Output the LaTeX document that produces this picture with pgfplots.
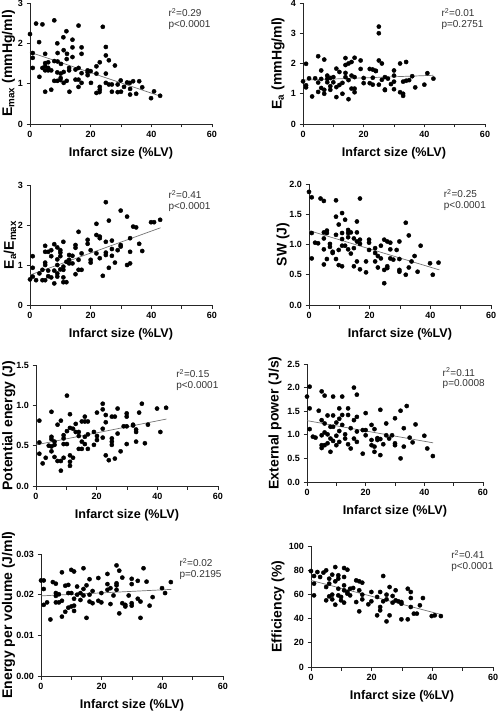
\documentclass[border=0pt]{standalone}
\usepackage{fontspec}
\setmainfont{Liberation Sans}
\usepackage{pgfplots}
\pgfplotsset{compat=1.18}
\pgfplotsset{
  myax/.style={
    scale only axis, anchor=south west,
    xmin=0,xmax=60, ymin=0,
    axis x line*=bottom, axis y line*=left,
    axis line style={-, line width=0.8pt, black!85},
    xtick={0,10,...,60}, xticklabels={0,,20,,40,,60},
    tick align=outside, major tick length=3.5pt,
    tick style={line width=0.8pt, black!85},
    tick label style={font=\fontsize{9}{10}\selectfont\bfseries},
    /pgf/number format/assume math mode=true,
    scaled y ticks=false,
    xlabel={Infarct size (\%LV)},
    xlabel style={font=\fontsize{12.6}{14}\selectfont\bfseries, at={(axis description cs:0.5,0)}, anchor=center, yshift=-29pt},
    ylabel style={font=\fontsize{14}{16}\selectfont\bfseries, anchor=center, inner sep=0pt},
    clip=false,
  },
  dots/.style={only marks, mark=*, mark size=2.1pt, black},
  fitl/.style={no marks, black!55, line width=0.7pt},
}
\tikzset{stat/.style={anchor=west, font=\fontsize{10}{11}\selectfont, text=black!80, inner sep=0pt}}
\begin{document}
\begin{tikzpicture}
\useasboundingbox (0pt,0pt) rectangle (498pt,-711pt);
% Panel 1: Emax
\begin{axis}[myax, at={(30pt,-124pt)}, width=182pt, height=121pt, ymax=3, ytick={0,1,2,3},
  ylabel={E\textsubscript{max} (mmHg/ml)}, ylabel style={at={(axis description cs:-0.118,0.5)}}]
\addplot[dots] coordinates {(0,2.23)(2.0,2.49)(4.1,2.47)(8.0,2.57)(16.0,2.44)(24.0,2.41)(12.0,2.30)(11.0,2.15)(14.0,2.09)(3.0,2.03)(9.0,2.00)(17.0,1.90)(14.0,1.90)(25.0,1.91)(11.1,1.83)(5.0,1.74)(9.1,1.76)(12.2,1.74)(17.0,1.74)(0.9,1.76)(0.9,1.64)(12.1,1.61)(14.0,1.66)(26.0,1.58)(25.0,1.70)(8.0,1.56)(6.0,1.53)(9.1,1.55)(5.0,1.51)(10.2,1.49)(12.9,1.39)(15.0,1.35)(19.0,1.33)(19.0,1.28)(16.0,1.39)(5.0,1.43)(4.1,1.39)(6.0,1.39)(5.0,1.33)(7.0,1.33)(6.0,1.33)(0.9,1.39)(12.9,1.33)(11.1,1.29)(10.1,1.25)(9.0,1.28)(10.1,1.14)(10.0,1.09)(16.0,1.10)(17.0,1.26)(15.0,1.10)(12.1,1.07)(8.0,1.07)(9.0,1.07)(11.1,1.02)(19.0,1.21)(20.0,1.31)(21.9,1.43)(23.0,1.53)(21.9,1.25)(20.1,1.02)(17.0,1.02)(16.0,0.92)(13.0,0.80)(5.0,0.80)(7.0,0.85)(3.1,1.17)(25.0,1.02)(25.0,1.25)(26.0,0.98)(27.0,0.98)(28.9,0.98)(29.9,1.08)(31.0,0.92)(30.0,0.80)(32.9,1.02)(34.0,1.06)(36.0,1.06)(32.0,1.03)(37.0,0.91)(33.0,0.87)(28.9,0.79)(27.0,0.80)(23.0,0.92)(21.9,0.77)(22.9,0.79)(23.0,0.85)(33.0,0.73)(35.0,0.75)(39.9,0.64)(40.9,0.81)(42.9,0.70)(28.0,1.45)};
\addplot[fitl] coordinates {(0,1.78)(43,0.69)};
\node[stat] at (rel axis cs:0.76,0.92) {r\textsuperscript{2}=0.29};
\node[stat] at (rel axis cs:0.76,0.82) {p<0.0001};
\end{axis}
% Panel 2: Ea
\begin{axis}[myax, at={(303pt,-124pt)}, width=182pt, height=121pt, ymax=4, ytick={0,1,2,3,4},
  ylabel={E\textsubscript{a} (mmHg/ml)}, ylabel style={at={(axis description cs:-0.137,0.5)}}]
\addplot[dots] coordinates {(0,1.41)(1,1.99)(1,1.28)(1,1.21)(2,1.51)(3,0.91)(4,1.51)(5,2.24)(5,1.37)(5,1.06)(6,1.77)(6,1.49)(6,1.19)(7,2.13)(7,1.13)(7,1.00)(8,1.60)(8,1.49)(8,1.38)(9,1.52)(9,1.25)(9,1.13)(10,1.55)(10,1.38)(11,1.83)(11,1.22)(11,0.89)(12,1.72)(12,1.29)(13,1.36)(13,1.00)(14,2.18)(14,1.95)(14,1.69)(14,1.55)(15,2.00)(15,1.45)(15,0.82)(16,2.05)(16,1.60)(16,1.17)(17,2.19)(17,1.55)(17,1.17)(17,1.05)(19,2.10)(19,1.82)(20,1.52)(20,1.35)(22,1.82)(22,1.35)(23,1.80)(23,1.53)(23,1.30)(24,1.76)(24,1.75)(25,3.22)(25,3.00)(25,2.10)(25,1.30)(26,2.00)(26,1.46)(27,1.55)(27,1.14)(27,1.12)(28,1.50)(29,1.32)(30,1.77)(30,1.60)(30,1.40)(30,1.15)(32,2.00)(32,1.05)(33,1.00)(33,0.93)(33,1.40)(34,2.05)(34,1.43)(35,1.45)(36,1.58)(37,1.21)(40,1.30)(41,1.68)(43,1.50)};
\addplot[fitl] coordinates {(0,1.45)(43,1.61)};
\node[stat] at (rel axis cs:0.76,0.92) {r\textsuperscript{2}=0.01};
\node[stat] at (rel axis cs:0.76,0.82) {p=0.2751};
\end{axis}
% Panel 3: Ea/Emax
\begin{axis}[myax, at={(30pt,-305pt)}, width=182pt, height=120pt, ymax=3, ytick={0,1,2,3},
  ylabel={E\textsubscript{a}/E\textsubscript{max}}, ylabel style={at={(axis description cs:-0.110,0.5)}}]
\addplot[dots] coordinates {(0,0.64)(0.9,1.22)(0.9,0.93)(0.9,0.71)(2.0,0.62)(3.1,0.79)(4.1,0.62)(5.0,0.62)(5.0,1.33)(5.0,1.48)(5.0,1.00)(5.0,1.06)(6.0,1.33)(6.0,0.86)(6.0,0.72)(7.0,1.37)(7.0,1.22)(7.0,0.69)(8.0,1.52)(8.0,0.54)(8.0,0.86)(9.0,1.14)(9.0,1.00)(9.0,0.79)(9.0,0.71)(10.0,1.37)(10.0,1.31)(10.0,1.22)(10.0,0.89)(11.0,1.58)(11.0,0.96)(11.0,0.88)(11.0,0.69)(11.0,0.57)(12.0,1.08)(12.0,0.57)(12.9,1.25)(12.9,1.04)(14.0,1.04)(15.0,1.50)(15.0,1.43)(15.0,0.77)(16.0,1.83)(16.0,1.13)(16.0,0.88)(17.0,1.29)(17.0,0.88)(19.0,1.63)(19.0,1.53)(20.0,1.37)(20.0,1.13)(20.0,1.06)(21.9,2.03)(21.9,1.75)(21.9,1.29)(23.0,1.71)(23.0,1.67)(23.0,1.17)(24.0,0.73)(25.0,2.57)(25.0,1.58)(25.0,1.31)(25.0,1.25)(26.0,2.11)(26.0,0.93)(27.0,1.61)(27.0,1.40)(27.0,1.23)(28.0,1.06)(28.9,1.37)(29.9,2.36)(29.9,1.50)(29.9,1.46)(32.0,2.21)(32.0,1.00)(33.0,1.67)(33.0,1.33)(33.0,1.04)(34.0,1.96)(35.0,1.94)(36.0,1.53)(37.0,1.35)(39.9,2.07)(40.9,2.07)(42.9,2.13)(4.1,0.88)(12.9,1.13)(14.0,1.23)(9.0,1.44)};
\addplot[fitl] coordinates {(0,0.75)(43,1.93)};
\node[stat] at (rel axis cs:0.76,0.92) {r\textsuperscript{2}=0.41};
\node[stat] at (rel axis cs:0.76,0.82) {p<0.0001};
\end{axis}
% Panel 4: SW
\begin{axis}[myax, at={(309pt,-305pt)}, width=182pt, height=121pt, ymax=2, ytick={0,0.5,1,1.5,2}, yticklabels={0.0,0.5,1.0,1.5,2.0},
  ylabel={SW (J)}, ylabel style={at={(axis description cs:-0.143,0.5)}}]
\addplot[dots] coordinates {(0,1.87)(0.9,1.78)(0.9,1.19)(0.9,0.77)(2.0,1.03)(3.0,1.02)(3.8,1.76)(4.9,1.72)(4.9,1.20)(4.9,1.10)(4.9,0.92)(4.9,0.67)(5.9,1.23)(5.9,1.19)(5.9,0.76)(6.9,1.01)(6.9,0.96)(7.8,0.88)(7.8,0.86)(8.9,1.73)(8.9,1.46)(8.9,1.16)(8.9,0.76)(9.8,1.33)(9.8,0.91)(9.8,0.66)(10.9,1.52)(10.9,1.19)(10.9,1.09)(10.9,0.98)(10.9,0.64)(11.9,1.41)(11.9,0.98)(12.9,1.24)(12.9,1.19)(12.9,1.12)(12.9,0.92)(13.8,1.20)(13.8,0.85)(14.8,1.10)(14.8,0.94)(14.8,0.64)(15.8,1.38)(15.8,1.20)(15.8,1.05)(15.8,0.72)(16.8,1.76)(16.8,1.08)(16.8,1.01)(16.8,0.59)(18.8,0.72)(18.8,0.54)(19.8,1.08)(19.8,1.03)(19.8,0.91)(21.8,0.94)(21.8,0.86)(21.8,0.72)(22.7,0.81)(22.7,0.62)(23.7,0.98)(23.7,0.77)(24.8,1.08)(24.8,0.36)(24.8,0.58)(25.8,1.05)(25.8,0.64)(25.8,0.61)(26.8,1.03)(26.8,0.92)(26.8,0.77)(27.8,0.75)(28.9,0.91)(29.8,1.05)(29.8,0.76)(29.8,0.58)(29.8,0.55)(31.9,1.36)(31.9,0.50)(32.9,1.15)(32.9,0.62)(33.8,0.72)(34.8,0.81)(35.8,0.55)(36.8,0.98)(39.9,0.69)(40.8,0.50)(42.7,0.70)};
\addplot[fitl] coordinates {(0,1.23)(43,0.58)};
\node[stat] at (rel axis cs:0.74,0.92) {r\textsuperscript{2}=0.25};
\node[stat] at (rel axis cs:0.74,0.82) {p<0.0001};
\end{axis}
% Panel 5: Potential energy
\begin{axis}[myax, at={(36pt,-486pt)}, width=182pt, height=121pt, ymax=1.5, ytick={0,0.5,1,1.5}, yticklabels={0.0,0.5,1.0,1.5},
  ylabel={Potential energy (J)}, ylabel style={at={(axis description cs:-0.150,0.5)}}]
\addplot[dots] coordinates {(1.1,0.81)(1.1,0.54)(1.1,0.40)(2.2,0.28)(3.2,0.35)(4.2,0.50)(5.1,0.92)(5.1,0.61)(5.1,0.58)(5.1,0.49)(5.1,0.43)(6.1,0.55)(6.1,0.51)(6.1,0.36)(7.1,0.76)(7.1,0.31)(8.2,0.81)(8.2,0.31)(8.2,0.19)(9.1,0.63)(9.1,0.59)(9.1,0.52)(9.1,0.35)(10.2,1.12)(10.2,0.68)(10.2,0.52)(11.2,0.89)(11.2,0.72)(11.2,0.38)(11.2,0.30)(11.2,0.25)(12.2,0.71)(12.2,0.35)(13.1,0.77)(13.1,0.67)(14.1,0.67)(14.1,0.46)(14.1,0.62)(15.1,0.80)(15.1,0.55)(15.1,0.46)(16.1,0.86)(16.1,0.80)(16.1,0.61)(16.1,0.52)(17.1,0.80)(17.1,0.64)(17.1,0.46)(19.1,0.51)(19.1,0.67)(20.1,0.91)(20.1,0.62)(20.1,0.57)(22.0,1.02)(22.0,0.95)(22.0,0.71)(22.0,0.60)(23.0,0.88)(23.0,0.79)(23.0,0.38)(24.0,0.32)(25.0,0.86)(25.0,0.59)(25.0,0.55)(25.0,0.51)(26.0,0.86)(26.0,0.34)(26.9,0.96)(26.9,0.65)(27.9,0.43)(28.9,0.74)(29.9,0.90)(29.9,0.86)(29.9,0.74)(29.9,0.52)(32.0,0.76)(32.0,0.75)(33.0,0.70)(33.0,0.67)(33.0,0.55)(34.0,0.91)(34.9,1.02)(35.9,0.53)(36.9,0.76)(39.9,0.96)(41.0,0.67)(42.9,0.97)};
\addplot[fitl] coordinates {(0,0.51)(43,0.83)};
\node[stat] at (rel axis cs:0.77,0.93) {r\textsuperscript{2}=0.15};
\node[stat] at (rel axis cs:0.77,0.83) {p<0.0001};
\end{axis}
% Panel 6: External power
\begin{axis}[myax, at={(307pt,-482pt)}, width=176pt, height=118pt, ymax=2.5, ytick={0,0.5,1,1.5,2,2.5}, yticklabels={0.0,0.5,1.0,1.5,2.0,2.5},
  ylabel={External power (J/s)}, ylabel style={at={(axis description cs:-0.182,0.5)}}]
\addplot[dots] coordinates {(0,1.81)(0.9,2.02)(0.9,1.56)(0.9,1.12)(2.0,0.96)(2.9,0.94)(4.0,1.51)(5.0,1.92)(5.0,1.31)(5.0,0.99)(5.0,0.78)(5.0,0.72)(6.0,1.83)(6.0,1.24)(6.0,1.05)(6.0,0.78)(7.0,1.41)(7.0,1.01)(7.0,0.82)(8.0,1.17)(8.0,0.64)(8.0,0.92)(8.9,1.81)(8.9,1.41)(8.9,1.17)(8.9,0.87)(10.0,1.26)(10.0,0.98)(10.0,0.78)(11.0,1.56)(11.0,1.34)(11.0,1.08)(11.0,0.85)(12.0,1.81)(12.0,1.42)(12.0,1.21)(13.0,1.01)(13.0,0.92)(14.0,1.56)(14.0,1.42)(14.0,0.80)(14.9,1.14)(14.9,0.71)(16.0,2.00)(16.0,1.31)(16.0,0.92)(17.0,1.85)(17.0,1.38)(17.0,1.07)(17.0,0.85)(19.0,0.60)(19.0,1.10)(20.0,1.46)(20.0,0.99)(20.0,1.10)(22.0,1.21)(22.0,0.78)(22.0,0.89)(23.0,1.12)(23.0,0.64)(23.0,0.75)(24.0,0.89)(24.0,0.93)(25.0,1.53)(25.0,0.91)(25.0,0.57)(26.0,0.80)(27.0,1.24)(27.0,0.99)(28.0,0.92)(29.0,0.99)(30.0,1.35)(30.0,0.78)(30.0,0.82)(31.9,1.51)(31.9,0.50)(33.0,1.14)(33.0,0.75)(34.0,1.61)(35.0,0.94)(36.0,0.84)(37.0,1.22)(40.0,0.98)(41.0,0.71)(42.9,0.55)};
\addplot[fitl] coordinates {(0,1.30)(43,0.83)};
\node[stat] at (rel axis cs:0.77,0.93) {r\textsuperscript{2}=0.11};
\node[stat] at (rel axis cs:0.77,0.83) {p=0.0008};
\end{axis}
% Panel 7: Energy per volume
\begin{axis}[myax, at={(41pt,-676pt)}, width=182pt, height=122pt, ymax=0.03, ytick={0,0.01,0.02,0.03}, yticklabels={0.00,0.01,0.02,0.03},
  ylabel={Energy per volume (J/ml)}, ylabel style={at={(axis description cs:-0.178,0.5)}}]
\addplot[dots] coordinates {(0,0.0235)(0.9,0.0235)(0.9,0.0214)(0.9,0.0175)(2.0,0.0181)(3.1,0.0139)(3.9,0.0231)(4.9,0.0227)(4.9,0.0204)(4.9,0.0197)(4.9,0.0181)(5.9,0.0201)(5.9,0.0181)(6.9,0.0255)(6.9,0.0185)(6.9,0.0146)(8.0,0.0222)(8.0,0.0158)(9.0,0.0224)(9.0,0.0204)(9.0,0.0168)(10.0,0.0261)(10.0,0.0204)(10.0,0.0171)(10.9,0.0257)(10.9,0.0190)(10.9,0.0160)(10.9,0.0173)(11.9,0.0220)(11.9,0.0200)(13.0,0.0187)(13.0,0.0204)(14.0,0.0265)(14.0,0.0214)(14.0,0.0198)(15.0,0.0143)(15.0,0.0223)(16.0,0.0238)(16.0,0.0200)(16.0,0.0183)(17.0,0.0209)(17.0,0.0179)(18.9,0.0241)(18.9,0.0185)(19.9,0.0181)(19.9,0.0204)(21.9,0.0251)(21.9,0.0212)(21.9,0.0226)(22.9,0.0177)(22.9,0.0216)(23.9,0.0198)(24.9,0.0272)(24.9,0.0228)(24.9,0.0223)(24.9,0.0212)(25.8,0.0259)(25.8,0.0154)(26.8,0.0242)(26.8,0.0179)(27.8,0.0175)(27.8,0.0171)(28.9,0.0198)(29.9,0.0239)(29.9,0.0226)(29.9,0.0179)(29.9,0.0173)(31.9,0.0234)(31.9,0.0190)(32.8,0.0183)(32.8,0.0143)(33.8,0.0265)(34.8,0.0232)(35.8,0.0173)(36.8,0.0194)(39.9,0.0216)(40.9,0.0204)(42.8,0.0231)};
\addplot[fitl] coordinates {(0,0.0197)(43,0.0213)};
\node[stat] at (rel axis cs:0.76,0.93) {r\textsuperscript{2}=0.02};
\node[stat] at (rel axis cs:0.76,0.83) {p=0.2195};
\end{axis}
% Panel 8: Efficiency
\begin{axis}[myax, at={(311pt,-667pt)}, width=182pt, height=121pt, ymax=100, ytick={0,20,40,60,80,100},
  ylabel={Efficiency (\%)}, ylabel style={at={(axis description cs:-0.181,0.5)}}]
\addplot[dots] coordinates {(0,79.3)(1.0,75.2)(1.0,68.9)(1.0,59.2)(2.1,78.5)(3.0,74.4)(4.1,78.0)(5.0,79.9)(5.0,66.1)(5.0,55.1)(6.0,73.0)(6.0,68.9)(6.0,58.4)(7.0,76.3)(7.0,59.8)(7.0,55.9)(8.0,82.6)(8.0,70.8)(8.0,51.5)(9.0,75.8)(9.0,73.0)(9.0,64.7)(9.0,59.2)(9.9,57.9)(9.9,55.1)(10.9,81.8)(10.9,74.4)(10.9,67.5)(10.9,63.4)(10.9,53.2)(12.0,80.4)(12.0,62.0)(12.0,60.6)(12.9,64.7)(12.9,59.2)(13.9,65.3)(14.9,71.6)(14.9,53.7)(15.9,70.8)(15.9,63.4)(15.9,46.0)(16.9,69.7)(16.9,59.8)(16.9,55.9)(18.9,51.8)(19.9,62.0)(19.9,54.3)(21.8,42.7)(21.8,57.9)(22.8,62.0)(22.8,49.6)(22.8,46.8)(23.8,75.2)(23.8,54.3)(24.9,37.7)(24.9,59.8)(24.9,55.9)(25.9,66.1)(25.9,42.7)(26.9,58.7)(26.9,53.2)(27.9,63.4)(27.9,55.1)(28.8,54.3)(29.8,53.7)(29.8,52.3)(29.8,39.4)(31.9,64.7)(31.9,39.4)(32.9,62.0)(32.9,57.0)(32.9,49.6)(33.9,44.1)(34.9,44.1)(35.9,51.0)(36.9,57.0)(39.8,42.1)(40.8,42.7)(42.8,42.1)};
\addplot[fitl] coordinates {(0,71.6)(43,43.3)};
\node[stat] at (rel axis cs:0.77,0.93) {r\textsuperscript{2}=0.41};
\node[stat] at (rel axis cs:0.77,0.83) {p<0.0001};
\end{axis}
\end{tikzpicture}
\end{document}
